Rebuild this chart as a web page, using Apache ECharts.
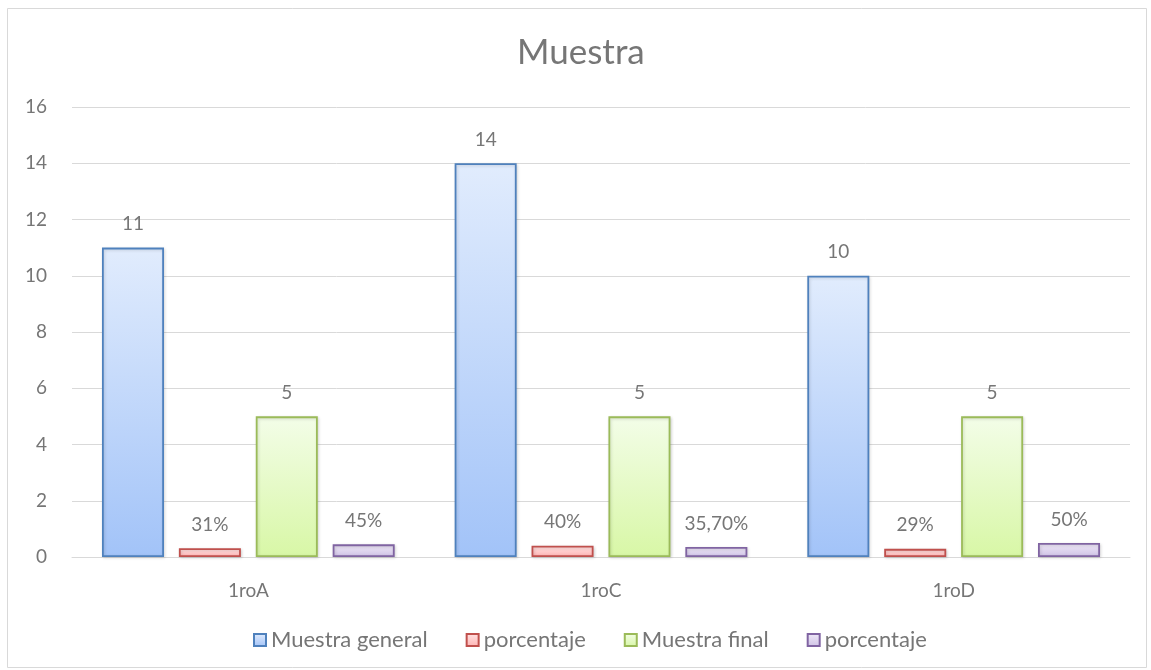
<!DOCTYPE html>
<html>
<head>
<meta charset="utf-8">
<script src="https://cdn.jsdelivr.net/npm/echarts@6/dist/echarts.min.js"></script>
<style>html,body{margin:0;padding:0;background:#fff}#c{width:1151px;height:670px}</style>
</head>
<body>
<div id="c"></div>
<script>
var categories = ['1roA', '1roC', '1roD'];
var seriesNames = ['Muestra general', 'porcentaje', 'Muestra final', 'porcentaje'];
var muestraGeneral = [11, 14, 10];
var porcentaje1 = [0.31, 0.40, 0.29];
var porcentaje1Labels = ['31%', '40%', '29%'];
var muestraFinal = [5, 5, 5];
var porcentaje2 = [0.45, 0.357, 0.50];
var porcentaje2Labels = ['45%', '35,70%', '50%'];
var yTicks = [0, 2, 4, 6, 8, 10, 12, 14, 16];

var FONT = 'Lato, "Open Sans", sans-serif';
var TXT = '#767676';

function grad(top, bottom) {
  return new echarts.graphic.LinearGradient(0, 0, 0, 1, [
    {offset: 0, color: top}, {offset: 1, color: bottom}
  ]);
}
var styles = [
  {fill: grad('#e1ecfd', '#a2c3f8'), border: '#4f81bd'},
  {fill: grad('#ffe3e3', '#ffb3b3'), border: '#c0504d'},
  {fill: grad('#f3fde8', '#d8f7a6'), border: '#9bbb59'},
  {fill: grad('#efe9f7', '#cfc2e6'), border: '#8064a2'}
];
var datas = [muestraGeneral, porcentaje1, muestraFinal, porcentaje2];
var labels = [null, porcentaje1Labels, null, porcentaje2Labels];
// unique internal ids so the legend keeps both "porcentaje" entries
var ids = seriesNames.map(function (n, i) { return n + (i === 3 ? ' ' : ''); });

var series = datas.map(function (d, i) {
  return {
    type: 'bar',
    name: ids[i],
    data: d,
    barGap: '24%',
    barCategoryGap: '17%',
    itemStyle: {color: styles[i].fill, borderColor: styles[i].border, borderWidth: 1.8,
      shadowColor: 'rgba(0,0,0,0.15)', shadowBlur: 3, shadowOffsetX: 1, shadowOffsetY: 1},
    label: {
      show: true, position: 'top', distance: 14,
      color: TXT, fontSize: 19, fontFamily: FONT,
      formatter: (function (lab) {
        return function (p) { return lab ? lab[p.dataIndex] : String(p.value); };
      })(labels[i])
    }
  };
});

var chart = echarts.init(document.getElementById('c'), null, {renderer: 'canvas'});
chart.setOption({
  animation: false,
  backgroundColor: '#fff',
  graphic: [{type: 'rect', shape: {x: 7.5, y: 8.5, width: 1139, height: 659},
    style: {fill: 'none', stroke: '#d9d9d9', lineWidth: 1}, silent: true, z: -1}],
  title: {text: 'Muestra', left: 512, top: 30,
    textStyle: {color: TXT, fontSize: 35, fontWeight: 'normal', fontFamily: FONT}},
  legend: {
    data: ids.map(function (n) { return {name: n}; }),
    formatter: function (n) { return n.trim(); },
    bottom: 14, left: 248, icon: 'rect', itemWidth: 12, itemHeight: 12, itemGap: 38,
    textStyle: {color: TXT, fontSize: 22, fontFamily: FONT}
  },
  grid: {left: 72, right: 21, top: 107, bottom: 113},
  xAxis: {
    type: 'category', data: categories,
    axisLine: {show: true, lineStyle: {color: '#d9d9d9'}},
    axisTick: {show: false},
    axisLabel: {color: TXT, fontSize: 19, fontFamily: FONT, margin: 24}
  },
  yAxis: {
    type: 'value', min: yTicks[0], max: yTicks[yTicks.length - 1], interval: 2,
    axisLine: {show: false}, axisTick: {show: false},
    splitLine: {lineStyle: {color: '#d9d9d9', width: 1}},
    axisLabel: {color: TXT, fontSize: 19, fontFamily: FONT, margin: 25,
      formatter: function (v) { return yTicks.indexOf(v) >= 0 ? String(v) : ''; }}
  },
  series: series
});
</script>
</body>
</html>
